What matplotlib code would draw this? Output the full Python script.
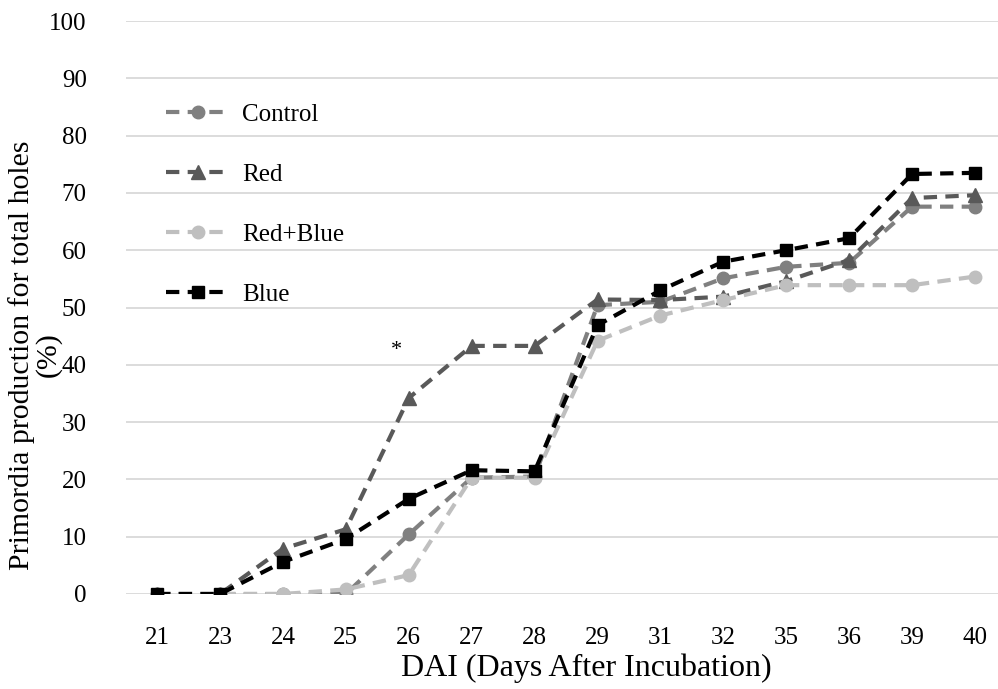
import matplotlib.pyplot as plt
import numpy as np

# data
days = ['21', '23', '24', '25', '26', '27', '28', '29', '31', '32', '35', '36', '39', '40']
control = [0, 0, 0, 0, 10.4, 20.3, 20.5, 50.4, 51.0, 55.1, 57.1, 57.8, 67.6, 67.6]
red = [0, 0, 7.9, 11.3, 34.2, 43.3, 43.3, 51.4, 51.3, 51.9, 54.6, 58.3, 69.1, 69.6]
red_blue = [0, 0, 0, 0.8, 3.3, 20.3, 20.3, 44.2, 48.6, 51.3, 53.9, 53.9, 53.9, 55.4]
blue = [0, 0, 5.6, 9.6, 16.6, 21.6, 21.4, 46.9, 53.0, 58.0, 60.0, 62.1, 73.3, 73.5]

plt.rcParams['font.family'] = ['Liberation Serif', 'DejaVu Serif']

fig = plt.figure(figsize=(9.98, 6.89), dpi=100)
ax = fig.add_axes([125.6 / 998, (689 - 594) / 689, 880.9 / 998, 573 / 689])

x = np.arange(len(days))
dash = (3.2, 2.0)
ax.plot(x, control, color='#808080', lw=3, ls='--', dashes=dash, marker='o', ms=9, label='Control')
ax.plot(x, red, color='#595959', lw=3, ls='--', dashes=dash, marker='^', ms=10, label='Red')
ax.plot(x, red_blue, color='#bfbfbf', lw=3, ls='--', dashes=dash, marker='o', ms=9, label='Red+Blue')
ax.plot(x, blue, color='#000000', lw=3, ls='--', dashes=dash, marker='s', ms=9, label='Blue')

ax.text(3.8, 42.5, '*', fontsize=16, ha='center', va='center')

ax.set_xlim(-0.5, len(days) - 0.5)
ax.set_ylim(0, 100)
ax.set_yticks(np.arange(0, 101, 10))
ax.set_xticks(x)
ax.set_xticklabels(days)
ax.tick_params(length=0, labelsize=18)
ax.tick_params(axis='x', pad=24)
ax.tick_params(axis='y', pad=28)
ax.grid(axis='y', color='#d9d9d9', lw=1.3)
ax.set_axisbelow(True)
for s in ax.spines.values():
    s.set_visible(False)

ax.set_xlabel('DAI (Days After Incubation)', fontsize=23)
ax.xaxis.set_label_coords((586 - 125.6) / 880.9, -0.104)

# y label drawn as two lines so the short second line sits beside the ticks
ycen = (689 - 355) / 689
fig.text(22 / 998, ycen, 'Primordia production for total holes',
         rotation=90, ha='center', va='center', fontsize=21.5)
fig.text(48 / 998, ycen, '(%)', rotation=90, ha='center', va='center', fontsize=21.5)

leg = ax.legend(loc='upper left', bbox_to_anchor=(0.02, 0.896), frameon=False,
                fontsize=18, labelspacing=1.5, handlelength=2.62, handletextpad=0.45)

fig.savefig('out.png', dpi=100)
